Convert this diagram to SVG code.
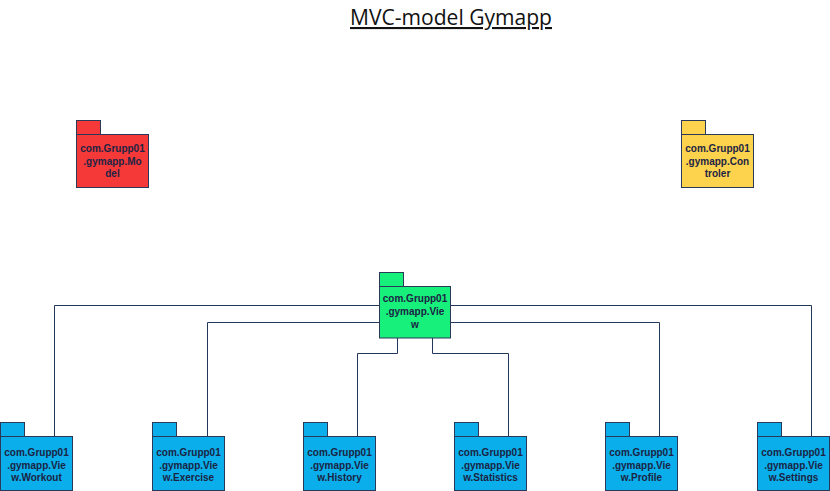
<svg xmlns="http://www.w3.org/2000/svg" width="830" height="491" viewBox="0 0 830 491">
<style>
.pk{stroke:#2a3957;stroke-width:1}
.red{fill:#f53838}
.yel{fill:#fdd24c}
.grn{fill:#18f07c}
.blu{fill:#0aaeea}
.t{font-family:"Liberation Sans",Arial,sans-serif;font-size:10px;font-weight:bold;fill:#1c2444;text-anchor:middle}
.c{fill:none;stroke:#22385a;stroke-width:1}
.title{font-family:"Open Sans","Liberation Sans",sans-serif;font-size:21px;fill:#111;text-anchor:middle;text-decoration:underline}
</style>
<rect width="830" height="491" fill="#fff"/>
<text class="title" x="451" y="25" textLength="202" lengthAdjust="spacingAndGlyphs">MVC-model Gymapp</text>
<g id="connectors">
<path class="c" d="M54.5 437 V305.5 H379"/>
<path class="c" d="M207.5 437 V322.5 H379"/>
<path class="c" d="M357.5 437 V353.5 H397.5 V338"/>
<path class="c" d="M432.5 338 V353.5 H508.5 V437"/>
<path class="c" d="M451 322.5 H659.5 V437"/>
<path class="c" d="M451 305.5 H811.5 V437"/>
</g>
<g id="model">
<rect class="pk red" x="76.5" y="120.5" width="24" height="14"/>
<rect class="pk red" x="76.5" y="134.5" width="72" height="53"/>
<text class="t" x="112.5" y="152">com.Grupp01</text>
<text class="t" x="112.5" y="164.5">.gymapp.Mo</text>
<text class="t" x="112.5" y="177">del</text>
</g>
<g id="controler">
<rect class="pk yel" x="681.5" y="120.5" width="24" height="14"/>
<rect class="pk yel" x="681.5" y="134.5" width="72" height="53"/>
<text class="t" x="717.5" y="152">com.Grupp01</text>
<text class="t" x="717.5" y="164.5">.gymapp.Con</text>
<text class="t" x="717.5" y="177">troler</text>
</g>
<g id="view">
<rect class="pk grn" x="379.5" y="272.5" width="24" height="14"/>
<rect class="pk grn" x="379.5" y="286.5" width="71" height="51.5"/>
<text class="t" x="415" y="302">com.Grupp01</text>
<text class="t" x="415" y="315">.gymapp.Vie</text>
<text class="t" x="415" y="328">w</text>
</g>
<g id="workout">
<rect class="pk blu" x="0.5" y="422.5" width="24" height="14"/>
<rect class="pk blu" x="0.5" y="436.5" width="72" height="54"/>
<text class="t" x="36.5" y="456">com.Grupp01</text>
<text class="t" x="36.5" y="468.5">.gymapp.Vie</text>
<text class="t" x="36.5" y="481">w.Workout</text>
</g>
<g id="exercise">
<rect class="pk blu" x="152.5" y="422.5" width="24" height="14"/>
<rect class="pk blu" x="152.5" y="436.5" width="72" height="54"/>
<text class="t" x="188.5" y="456">com.Grupp01</text>
<text class="t" x="188.5" y="468.5">.gymapp.Vie</text>
<text class="t" x="188.5" y="481">w.Exercise</text>
</g>
<g id="history">
<rect class="pk blu" x="303.5" y="422.5" width="24" height="14"/>
<rect class="pk blu" x="303.5" y="436.5" width="72" height="54"/>
<text class="t" x="339.5" y="456">com.Grupp01</text>
<text class="t" x="339.5" y="468.5">.gymapp.Vie</text>
<text class="t" x="339.5" y="481">w.History</text>
</g>
<g id="statistics">
<rect class="pk blu" x="454.5" y="422.5" width="24" height="14"/>
<rect class="pk blu" x="454.5" y="436.5" width="72" height="54"/>
<text class="t" x="490.5" y="456">com.Grupp01</text>
<text class="t" x="490.5" y="468.5">.gymapp.Vie</text>
<text class="t" x="490.5" y="481">w.Statistics</text>
</g>
<g id="profile">
<rect class="pk blu" x="605.5" y="422.5" width="24" height="14"/>
<rect class="pk blu" x="605.5" y="436.5" width="72" height="54"/>
<text class="t" x="641.5" y="456">com.Grupp01</text>
<text class="t" x="641.5" y="468.5">.gymapp.Vie</text>
<text class="t" x="641.5" y="481">w.Profile</text>
</g>
<g id="settings">
<rect class="pk blu" x="757.5" y="422.5" width="24" height="14"/>
<rect class="pk blu" x="757.5" y="436.5" width="72" height="54"/>
<text class="t" x="793.5" y="456">com.Grupp01</text>
<text class="t" x="793.5" y="468.5">.gymapp.Vie</text>
<text class="t" x="793.5" y="481">w.Settings</text>
</g>
</svg>
